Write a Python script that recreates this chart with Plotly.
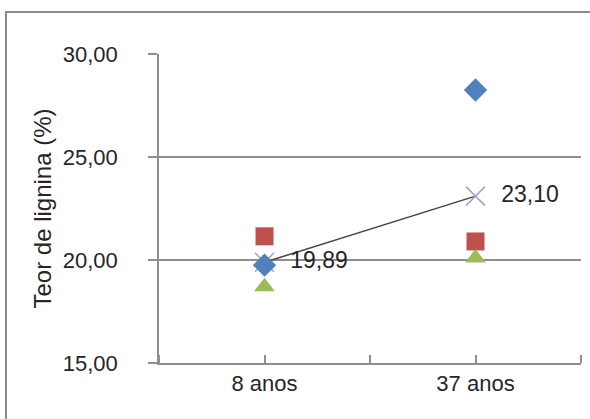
import plotly.graph_objects as go

# Lignin content by stand age
categories = ["8 anos", "37 anos"]
serie_a = [19.75, 28.25]   # diamonds
serie_b = [21.15, 20.90]   # squares
serie_c = [18.70, 20.10]   # triangles
media = [19.89, 23.10]     # mean, connected line with labels
media_labels = ["19,89", "23,10"]
y_ticks = [15, 20, 25, 30]

xpos = [i + 0.5 for i in range(len(categories))]

FONT = "Liberation Sans, Arial, sans-serif"
TXT = "#262626"
GRID = "#8f8f8f"

fig = go.Figure()
# mean line first so the individual markers sit on top of it
fig.add_trace(go.Scatter(x=xpos, y=media, mode="lines+markers+text",
                         line=dict(color="#454545", width=1.5),
                         marker=dict(symbol="x-thin", size=19,
                                     line=dict(color="#a2a2c6", width=1.5), color="#a2a2c6"),
                         text=["  " + t for t in media_labels], textposition="middle right",
                         textfont=dict(family=FONT, size=23, color=TXT)))
fig.add_trace(go.Scatter(x=xpos, y=serie_a, mode="markers",
                         marker=dict(symbol="diamond", size=18, color="#4F81BD")))
fig.add_trace(go.Scatter(x=xpos, y=serie_b, mode="markers",
                         marker=dict(symbol="square", size=18, color="#C0504D")))
fig.add_trace(go.Scatter(x=xpos, y=serie_c, mode="markers",
                         marker=dict(symbol="triangle-up", size=18, color="#9BBB59")))

W, H = 590, 419
L, R, T, B = 159, 9, 54, 56
pw, ph = W - L - R, H - T - B

fig.update_layout(
    width=W, height=H,
    margin=dict(l=L, r=R, t=T, b=B),
    paper_bgcolor="white", plot_bgcolor="white",
    showlegend=False,
    separators=",.",
    font=dict(family=FONT, size=22, color=TXT),
    xaxis=dict(range=[0, len(categories)], tickvals=xpos, ticktext=categories,
               showgrid=False, zeroline=False, showline=True, linecolor=GRID, linewidth=1.5,
               ticks="", tickfont=dict(size=22, color=TXT),
               minor=dict(ticks="inside", tick0=0, dtick=0.5, ticklen=8,
                          tickcolor=GRID, tickwidth=1.5, showgrid=False)),
    yaxis=dict(range=[15, 30], tickvals=y_ticks, tickformat=".2f",
               showgrid=True, gridcolor=GRID, gridwidth=1.5, zeroline=False,
               showline=True, linecolor=GRID, linewidth=1.5,
               ticks="outside", ticklen=9, tickcolor=GRID, tickwidth=1.5,
               ticklabelstandoff=26,
               tickfont=dict(size=22, color=TXT),
               title=dict(text="Teor de lignina (%)", font=dict(size=24, color=TXT), standoff=4)),
    shapes=[dict(type="rect", xref="paper", yref="paper",
                 x0=(6 - L) / pw, x1=(W + 20 - L) / pw,
                 y0=-(B + 20) / ph, y1=(H - B - 12) / ph,
                 line=dict(color="#8a8a8a", width=2), layer="below")],
)

fig.write_html("out.html")
